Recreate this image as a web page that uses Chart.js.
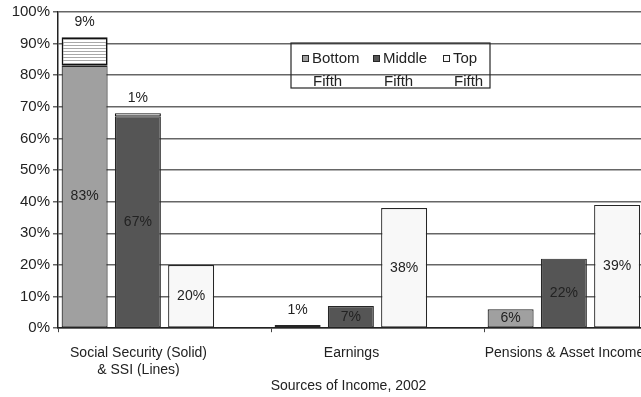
<!DOCTYPE html>
<html>
<head>
<meta charset="utf-8">
<title>Sources of Income, 2002</title>
<script src="https://cdn.jsdelivr.net/npm/chart.js@4.4.1/dist/chart.umd.min.js"></script>
<style>
  html, body { margin: 0; padding: 0; background: #fff; overflow: hidden; }
  #chart { display: block; }
</style>
</head>
<body>
<canvas id="chart" width="700" height="397"></canvas>
<script>
const categories = [["Social Security (Solid)", "& SSI (Lines)"], "Earnings", "Pensions & Asset Income"];
const seriesNames = ["Bottom Fifth", "Middle Fifth", "Top Fifth"];
const bottomFifth = [83, 1, 6];
const middleFifth = [67, 7, 22];
const topFifth = [20, 38, 39];
// SSI part, stacked on top of the Social Security bars
const ssiBottom = [9, null, null];
const ssiMiddle = [1, null, null];
const yTicks = [0, 10, 20, 30, 40, 50, 60, 70, 80, 90, 100];

const FONT = "'Liberation Sans', Arial, sans-serif";
const colors = ["#a0a0a0", "#555555", "#f8f8f8"];
const edge = "#262626";

const canvas = document.getElementById("chart");
const ctx = canvas.getContext("2d");

// horizontal lines fill for the SSI segments
function linePattern() {
  const c = document.createElement("canvas");
  c.width = 4;
  c.height = 3;
  const g = c.getContext("2d");
  g.fillStyle = "#ffffff";
  g.fillRect(0, 0, 4, 3);
  g.fillStyle = "#a8a8a8";
  g.fillRect(0, 0, 4, 1);
  return ctx.createPattern(c, "repeat");
}
const lines = linePattern();

// value labels: inside the bar, or above it for thin segments
const barLabels = {
  id: "barLabels",
  afterDatasetsDraw(chart) {
    const c = chart.ctx;
    c.save();
    c.font = "14px " + FONT;
    c.fillStyle = "#222";
    c.textAlign = "center";
    c.textBaseline = "middle";
    chart.data.datasets.forEach((ds, i) => {
      if (ds.spacer) return;
      chart.getDatasetMeta(i).data.forEach((bar, j) => {
        const v = ds.data[j];
        if (v == null) return;
        const y = ds.labelAbove || v < 3 ? bar.y - 15 : (bar.y + bar.base) / 2;
        c.fillText(v + "%", bar.x, y);
      });
    });
    c.restore();
  },
};

// boxed legend, names wrapped on two lines
const boxLegend = {
  id: "boxLegend",
  afterDraw(chart) {
    const c = chart.ctx;
    const left = 291, top = 43, w = 199, h = 45;
    const itemX = [302, 373, 443];
    c.save();
    c.strokeStyle = edge;
    c.lineWidth = 1.2;
    c.strokeRect(left, top, w, h);
    c.font = "15px " + FONT;
    c.fillStyle = "#222";
    c.textBaseline = "middle";
    seriesNames.forEach((name, i) => {
      const x = itemX[i];
      c.fillStyle = colors[i];
      c.fillRect(x, 55, 7, 7);
      c.strokeStyle = edge;
      c.lineWidth = 1;
      c.strokeRect(x + 0.5, 55.5, 6, 6);
      c.fillStyle = "#222";
      const words = name.split(" ");
      c.fillText(words[0], x + 10, 59);
      c.fillText(words[1], x + 11, 82);
    });
    c.restore();
  },
};

const datasets = [
  { label: seriesNames[0], data: bottomFifth, stack: "bottom", backgroundColor: colors[0] },
  { label: "SSI " + seriesNames[0], data: ssiBottom, stack: "bottom", backgroundColor: lines, borderWidth: 1.8, borderColor: "#111", labelAbove: true },
  { label: seriesNames[1], data: middleFifth, stack: "middle", backgroundColor: colors[1] },
  { label: "SSI " + seriesNames[1], data: ssiMiddle, stack: "middle", backgroundColor: "#f4f4f4", borderWidth: 1.2, borderColor: "#111", labelAbove: true },
  { label: seriesNames[2], data: topFifth, stack: "top", backgroundColor: colors[2] },
  // empty slot keeps the gap after each group
  { label: "", data: [null, null, null], stack: "gap", spacer: true },
];

new Chart(ctx, {
  type: "bar",
  data: { labels: categories, datasets: datasets },
  options: {
    responsive: false,
    animation: false,
    devicePixelRatio: 1,
    layout: { padding: { top: 12, right: 3, bottom: 2, left: 0 } },
    datasets: {
      bar: {
        categoryPercentage: 1,
        barPercentage: 0.864,
        borderColor: edge,
        borderWidth: 1.2,
        borderSkipped: false,
      },
    },
    scales: {
      x: {
        stacked: true,
        afterFit: (scale) => { scale.height = 48; },
        border: { color: "#222", width: 1.5 },
        grid: { drawOnChartArea: false, tickLength: 4, color: "#444" },
        ticks: {
          font: { family: FONT, size: 14 },
          color: "#222",
          padding: 13,
          labelOffset: -26,
          maxRotation: 0,
          autoSkip: false,
        },
      },
      y: {
        stacked: true,
        min: 0,
        max: 100,
        afterFit: (scale) => { scale.width = 58; },
        afterBuildTicks: (scale) => { scale.ticks = yTicks.map((v) => ({ value: v })); },
        border: { color: "#222", width: 1.5 },
        grid: { color: "#666666", lineWidth: 1.5, tickLength: 5 },
        ticks: {
          font: { family: FONT, size: 15 },
          color: "#222",
          padding: 3,
          callback: (v) => v + "%",
        },
      },
    },
    plugins: {
      legend: { display: false },
      tooltip: { enabled: false },
      title: {
        display: true,
        position: "bottom",
        text: "Sources of Income, 2002",
        color: "#222",
        font: { family: FONT, size: 14, weight: "normal" },
        padding: { top: 2, bottom: 0 },
      },
    },
  },
  plugins: [barLabels, boxLegend],
});
</script>
</body>
</html>
